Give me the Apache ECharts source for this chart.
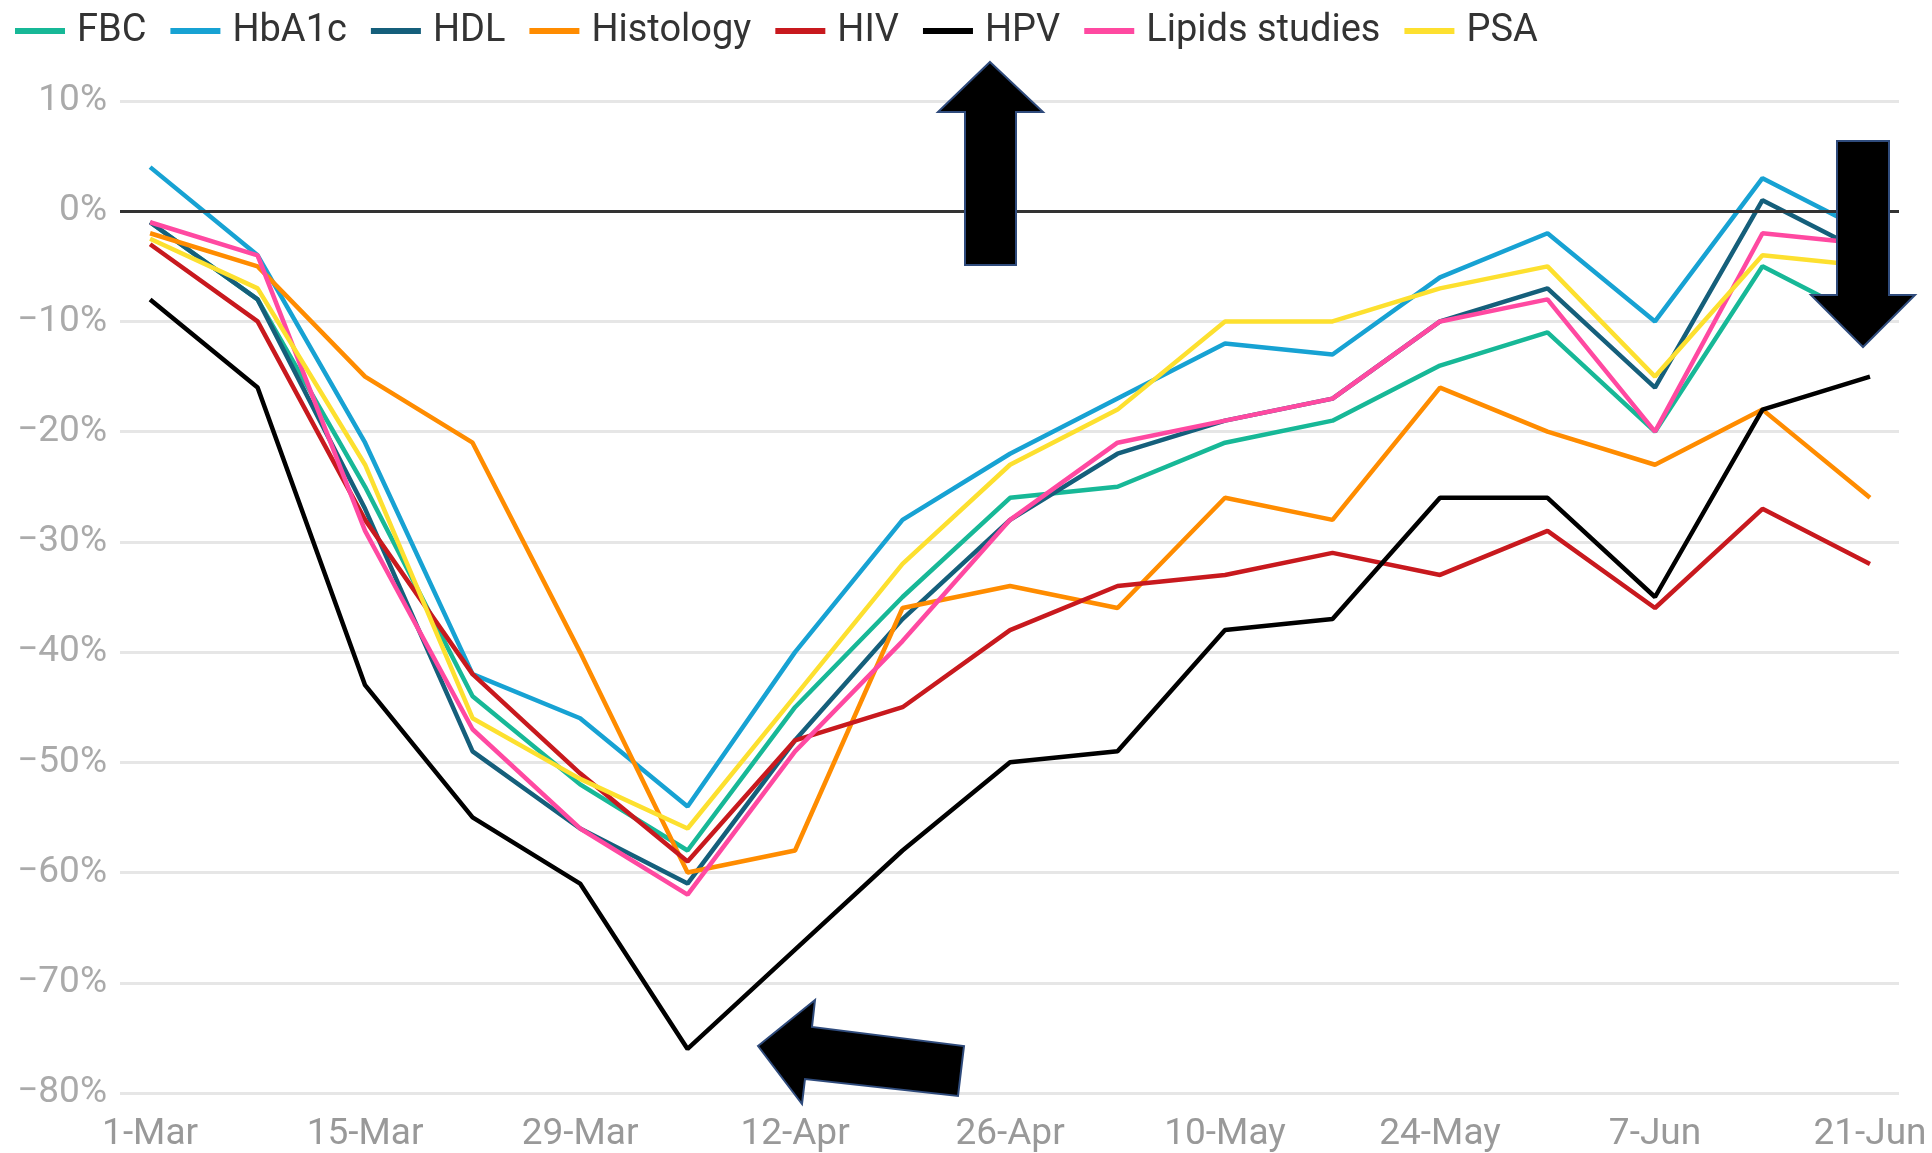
<!DOCTYPE html>
<html>
<head>
<meta charset="utf-8">
<title>Weekly change in test volumes</title>
<script src="https://cdn.jsdelivr.net/npm/echarts@6/dist/echarts.min.js"></script>
<style>
  html, body { margin: 0; padding: 0; background: #fff; }
  #chart { width: 1932px; height: 1153px; }
</style>
</head>
<body>
<div id="chart"></div>
<script>
// week starting dates (x categories)
const weeks = ['1-Mar', '8-Mar', '15-Mar', '22-Mar', '29-Mar', '5-Apr', '12-Apr', '19-Apr', '26-Apr',
  '3-May', '10-May', '17-May', '24-May', '31-May', '7-Jun', '14-Jun', '21-Jun'];
// which weeks get a label on the x axis
const tickWeeks = [0, 2, 4, 6, 8, 10, 12, 14, 16];

// % change per week
const fbc       = [-1, -8, -25, -44, -52, -58, -45, -35, -26, -25, -21, -19, -14, -11, -20, -5, -10];
const hba1c     = [4, -4, -21, -42, -46, -54, -40, -28, -22, -17, -12, -13, -6, -2, -10, 3, -2];
const hdl       = [-1, -8, -27, -49, -56, -61, -48, -37, -28, -22, -19, -17, -10, -7, -16, 1, -4];
const histology = [-2, -5, -15, -21, -40, -60, -58, -36, -34, -36, -26, -28, -16, -20, -23, -18, -26];
const hiv       = [-3, -10, -28, -42, -51, -59, -48, -45, -38, -34, -33, -31, -33, -29, -36, -27, -32];
const hpv       = [-8, -16, -43, -55, -61, -76, -67, -58, -50, -49, -38, -37, -26, -26, -35, -18, -15];
const lipids    = [-1, -4, -29, -47, -56, -62, -49, -39, -28, -21, -19, -17, -10, -8, -20, -2, -3];
const psa       = [-2.5, -7, -23, -46, -51.5, -56, -44, -32, -23, -18, -10, -10, -7, -5, -15, -4, -5];

const seriesList = [
  { name: 'FBC', data: fbc, color: '#17b897' },
  { name: 'HbA1c', data: hba1c, color: '#17a2d3' },
  { name: 'HDL', data: hdl, color: '#155f7b' },
  { name: 'Histology', data: histology, color: '#ff8c00' },
  { name: 'HIV', data: hiv, color: '#c8191e' },
  { name: 'HPV', data: hpv, color: '#000000' },
  { name: 'Lipids studies', data: lipids, color: '#ff49a1' },
  { name: 'PSA', data: psa, color: '#fde02f' }
];

const font = 'Roboto, "Noto Sans", sans-serif';

// the three block arrows drawn over the chart
function arrow(points) {
  return {
    type: 'polygon',
    z: 100,
    shape: { points: points },
    style: { fill: '#000', stroke: '#2f4b7c', lineWidth: 2 }
  };
}

const chart = echarts.init(document.getElementById('chart'));

const option = {
  animation: false,
  backgroundColor: '#fff',
  textStyle: { fontFamily: font },
  legend: {
    left: 15,
    top: 12,
    padding: 0,
    icon: 'rect',
    itemWidth: 50,
    itemHeight: 6,
    itemGap: 24,
    textStyle: { fontFamily: font, fontSize: 38, color: '#333', padding: [0, 0, 0, 7] },
    data: seriesList.map(s => s.name)
  },
  grid: { left: 120, right: 33, top: 101, bottom: 57 },
  xAxis: {
    type: 'value',
    min: -0.28,
    max: 16.27,
    splitLine: { show: false },
    axisLine: { show: false },
    axisTick: { show: false },
    axisLabel: {
      customValues: tickWeeks,
      formatter: v => weeks[v] || '',
      fontFamily: font,
      fontSize: 37,
      color: '#999',
      margin: 23
    }
  },
  yAxis: {
    type: 'value',
    min: -80,
    max: 10,
    interval: 10,
    axisLine: { show: false },
    axisTick: { show: false },
    splitLine: { lineStyle: { color: '#e6e6e6', width: 3 } },
    axisLabel: {
      fontFamily: font,
      fontSize: 37,
      color: '#aaa',
      margin: 13,
      formatter: v => String(v).replace('-', '\u2212') + '%'
    }
  },
  series: seriesList.map((s, idx) => ({
    name: s.name,
    type: 'line',
    symbol: 'none',
    color: s.color,
    lineStyle: { width: 4.5, color: s.color },
    data: s.data.map((v, i) => [i, v]),
    markLine: idx === 0 ? {
      silent: true,
      symbol: 'none',
      label: { show: false },
      lineStyle: { color: '#333', width: 3, type: 'solid' },
      data: [{ yAxis: 0 }]
    } : undefined
  })),
  graphic: [
    arrow([[990, 62], [1043, 112], [1016, 112], [1016, 265], [965, 265], [965, 112], [938, 112]]),
    arrow([[1837, 141], [1889, 141], [1889, 295], [1915, 295], [1863, 347], [1811, 295], [1837, 295]]),
    arrow([[758, 1046], [815, 1000], [812, 1027], [964, 1046], [958, 1096], [805, 1079], [802, 1104]])
  ]
};

chart.setOption(option);
</script>
</body>
</html>
